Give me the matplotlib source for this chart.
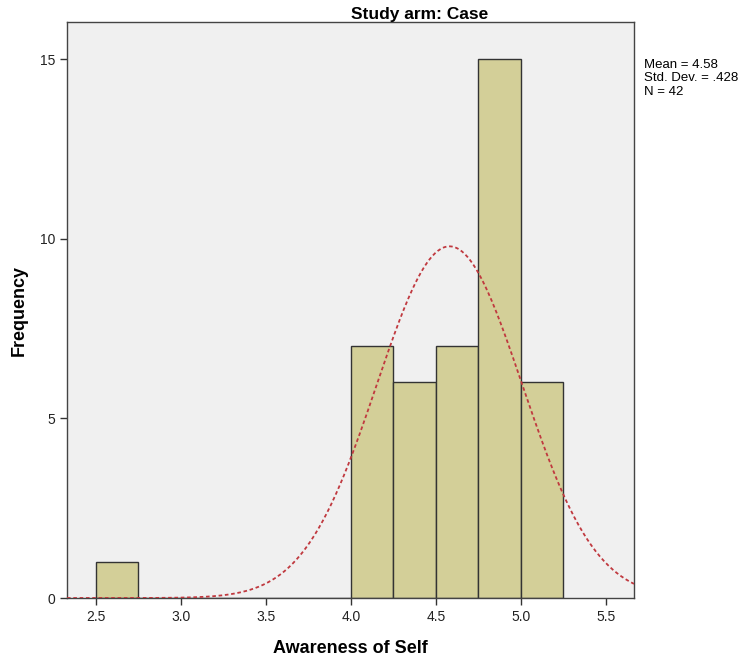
import numpy as np
from matplotlib import pyplot as plt

# histogram data
bin_edges = [2.50, 2.75, 3.00, 3.25, 3.50, 3.75, 4.00, 4.25, 4.50, 4.75, 5.00, 5.25]
counts = [1, 0, 0, 0, 0, 0, 7, 6, 7, 15, 6]
mean = 4.58
std = 0.428
n = 42
xticks = [2.5, 3.0, 3.5, 4.0, 4.5, 5.0, 5.5]
yticks = [0, 5, 10, 15]

plt.rcParams['font.family'] = ['Liberation Sans', 'DejaVu Sans']

fig = plt.figure(figsize=(7.51, 6.56), dpi=100)
ax = fig.add_axes([0.0892, 0.0884, 0.755, 0.878])
ax.set_facecolor('#f0f0f0')

lefts = np.array(bin_edges[:-1])
widths = np.diff(bin_edges)
ax.bar(lefts, counts, width=widths, align='edge', color='#d3cf98',
       edgecolor='#333333', linewidth=1.0, zorder=2)

# fitted normal curve scaled to counts
width = bin_edges[1] - bin_edges[0]
xs = np.linspace(2.33, 5.665, 400)
ys = n * width / (std * np.sqrt(2 * np.pi)) * np.exp(-0.5 * ((xs - mean) / std) ** 2)
ax.plot(xs, ys, color='#c0393f', linestyle=(0, (2, 1.5)), linewidth=1.3, zorder=3)

ax.set_xlim(2.33, 5.665)
ax.set_ylim(0, 16.03)
ax.set_xticks(xticks)
ax.set_xticklabels(['{:.1f}'.format(t) for t in xticks])
ax.set_yticks(yticks)
ax.tick_params(direction='out', length=5, width=1, color='#333333',
               labelsize=10, labelcolor='#222222')

for s in ax.spines.values():
    s.set_color('#444444')
    s.set_linewidth(1.0)

ax.set_xlabel('Awareness of Self', fontsize=13, fontweight='bold', labelpad=12)
ax.set_ylabel('Frequency', fontsize=13, fontweight='bold', labelpad=9)

fig.text(420 / 751, 1 - 15 / 656, 'Study arm: Case', ha='center', va='center',
         fontsize=12.5, fontweight='bold')
fig.text(644 / 751, 1 - 59 / 656,
         'Mean = {:.2f}\nStd. Dev. = .428\nN = {:d}'.format(mean, n),
         ha='left', va='top', fontsize=9.5, linespacing=1.15)

fig.savefig('out.png', dpi=100)
